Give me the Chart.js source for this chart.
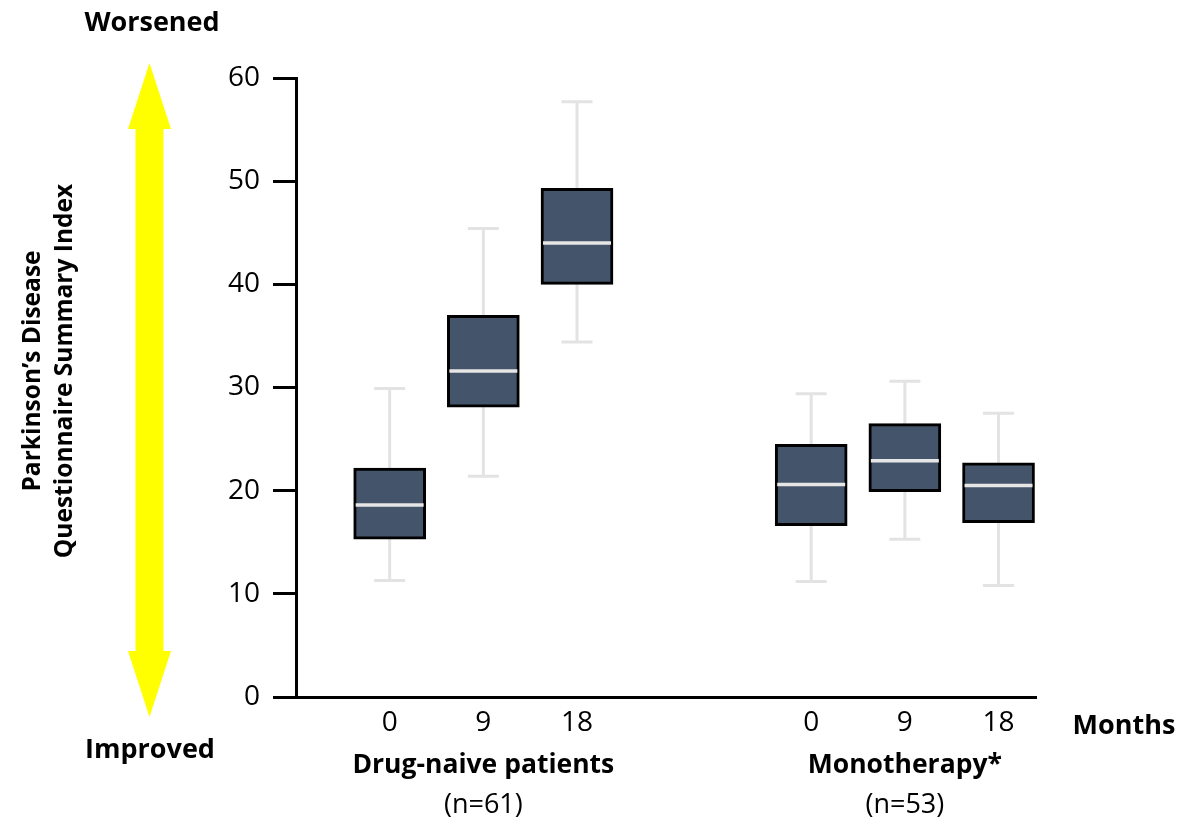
<!DOCTYPE html>
<html>
<head>
<meta charset="utf-8">
<script src="https://cdn.jsdelivr.net/npm/chart.js@4.4.1/dist/chart.umd.min.js"></script>
<style>
  html, body { margin: 0; padding: 0; background: #ffffff; }
  #wrap { position: relative; width: 1177px; height: 822px; }
</style>
</head>
<body>
<div id="wrap"><canvas id="chart" width="1177" height="822"></canvas></div>
<script>
// PDQ-39 summary index by visit, two patient groups
const groupNames = ['Drug-naive patients', 'Monotherapy*'];
const groupCounts = ['(n=61)', '(n=53)'];
const months = ['0', '9', '18'];

// box-plot statistics, in order: drug-naive 0/9/18, monotherapy 0/9/18
const whiskerLow  = [11.3, 21.4, 34.4, 11.2, 15.3, 10.8];
const quartile1   = [15.3, 28.1, 40.0, 16.6, 19.9, 16.9];
const medians     = [18.6, 31.6, 44.0, 20.6, 22.9, 20.5];
const quartile3   = [22.2, 37.0, 49.3, 24.5, 26.5, 22.7];
const whiskerHigh = [29.9, 45.4, 57.7, 29.4, 30.6, 27.5];

const yTickValues = [0, 10, 20, 30, 40, 50, 60];

// slot layout: three visits per group, with a wider gap between groups
const GROUP_STRIDE = 4.5;
const slotOf = (i) => Math.floor(i / months.length) * GROUP_STRIDE + (i % months.length) + 1;
const slots = whiskerLow.map((_, i) => slotOf(i));
const tickText = slots.map((_, i) => months[i % months.length]);

const FONT = '"Open Sans", "Noto Sans", sans-serif';
const BOX_FILL = '#44546a';
const WHISKER = '#e3e3e3';
const MEDIAN = '#e6e6e6';

const boxData = slots.map((s, i) => ({ x: s, y: [quartile1[i], quartile3[i]] }));

const boxPlotExtras = {
  id: 'boxPlotExtras',
  beforeDatasetsDraw(chart) {
    const { ctx, scales: { x, y } } = chart;
    ctx.save();
    ctx.strokeStyle = WHISKER;
    ctx.lineWidth = 3;
    slots.forEach((s, i) => {
      const px = x.getPixelForValue(s);
      const top = y.getPixelForValue(whiskerHigh[i]);
      const bot = y.getPixelForValue(whiskerLow[i]);
      ctx.beginPath();
      ctx.moveTo(px, top); ctx.lineTo(px, bot);
      ctx.moveTo(px - 15.5, top); ctx.lineTo(px + 15.5, top);
      ctx.moveTo(px - 15.5, bot); ctx.lineTo(px + 15.5, bot);
      ctx.stroke();
    });
    ctx.restore();
  },
  afterDatasetsDraw(chart) {
    const { ctx, scales: { y } } = chart;
    const meta = chart.getDatasetMeta(0);
    ctx.save();
    ctx.strokeStyle = MEDIAN;
    ctx.lineWidth = 3.5;
    meta.data.forEach((bar, i) => {
      const half = bar.width / 2 - 2;
      const py = y.getPixelForValue(medians[i]);
      ctx.beginPath();
      ctx.moveTo(bar.x - half, py);
      ctx.lineTo(bar.x + half, py);
      ctx.stroke();
    });
    ctx.restore();
  },
  afterDraw(chart) {
    const { ctx, scales: { x } } = chart;
    ctx.save();
    ctx.fillStyle = '#000000';
    ctx.textAlign = 'center';
    ctx.textBaseline = 'alphabetic';

    // direction labels and the double-headed arrow
    ctx.font = `bold 27px ${FONT}`;
    ctx.fillText('Worsened', 152, 31);
    ctx.fillText('Improved', 150, 758);

    const cx = 149.5, tipTop = 63, tipBot = 717, headLen = 66, headHalf = 21.5, shaftHalf = 14;
    ctx.fillStyle = '#ffff00';
    ctx.beginPath();
    ctx.moveTo(cx, tipTop);
    ctx.lineTo(cx + headHalf, tipTop + headLen);
    ctx.lineTo(cx + shaftHalf, tipTop + headLen);
    ctx.lineTo(cx + shaftHalf, tipBot - headLen);
    ctx.lineTo(cx + headHalf, tipBot - headLen);
    ctx.lineTo(cx, tipBot);
    ctx.lineTo(cx - headHalf, tipBot - headLen);
    ctx.lineTo(cx - shaftHalf, tipBot - headLen);
    ctx.lineTo(cx - shaftHalf, tipTop + headLen);
    ctx.lineTo(cx - headHalf, tipTop + headLen);
    ctx.closePath();
    ctx.fill();

    // rotated axis title
    ctx.fillStyle = '#000000';
    ctx.save();
    ctx.translate(0, 371);
    ctx.rotate(-Math.PI / 2);
    ctx.font = `bold 24.5px ${FONT}`;
    ctx.fillText('Parkinson\u2019s Disease', 0, 40);
    ctx.fillText('Questionnaire Summary Index', 0, 72);
    ctx.restore();

    // group captions under the visit ticks
    groupNames.forEach((name, g) => {
      const mid = x.getPixelForValue(slotOf(g * months.length + 1));
      ctx.font = `bold 26.5px ${FONT}`;
      ctx.fillText(name, mid, 773);
      ctx.font = `27px ${FONT}`;
      ctx.fillText(groupCounts[g], mid, 813);
    });

    ctx.font = `bold 27px ${FONT}`;
    ctx.fillText('Months', 1124, 734);
    ctx.restore();
  }
};

new Chart(document.getElementById('chart'), {
  type: 'bar',
  data: {
    datasets: [{
      data: boxData,
      backgroundColor: BOX_FILL,
      borderColor: '#000000',
      borderWidth: 3,
      borderSkipped: false,
      barThickness: 72
    }]
  },
  options: {
    responsive: false,
    animation: false,
    layout: { padding: { left: 0, right: 141, top: 78, bottom: 0 } },
    plugins: { legend: { display: false }, tooltip: { enabled: false } },
    scales: {
      x: {
        type: 'linear',
        offset: false,
        min: 0,
        max: 7.9,
        afterBuildTicks(scale) { scale.ticks = slots.map(v => ({ value: v })); },
        afterFit(scale) { scale.height = 125; },
        ticks: {
          autoSkip: false,
          maxRotation: 0,
          padding: 9,
          color: '#000000',
          font: { family: FONT, size: 28 },
          callback: (v, i) => tickText[i]
        },
        grid: { offset: false, drawOnChartArea: false, drawTicks: false },
        border: { display: true, color: '#000000', width: 3 }
      },
      y: {
        min: 0,
        max: 60,
        afterBuildTicks(scale) { scale.ticks = yTickValues.map(v => ({ value: v })); },
        afterFit(scale) { scale.width = 296; },
        ticks: {
          padding: 13,
          color: '#000000',
          font: { family: FONT, size: 28 }
        },
        grid: { drawOnChartArea: false, drawTicks: true, tickLength: 23, tickColor: '#000000', tickWidth: 3 },
        border: { display: true, color: '#000000', width: 3 }
      }
    }
  },
  plugins: [boxPlotExtras]
});
</script>
</body>
</html>
